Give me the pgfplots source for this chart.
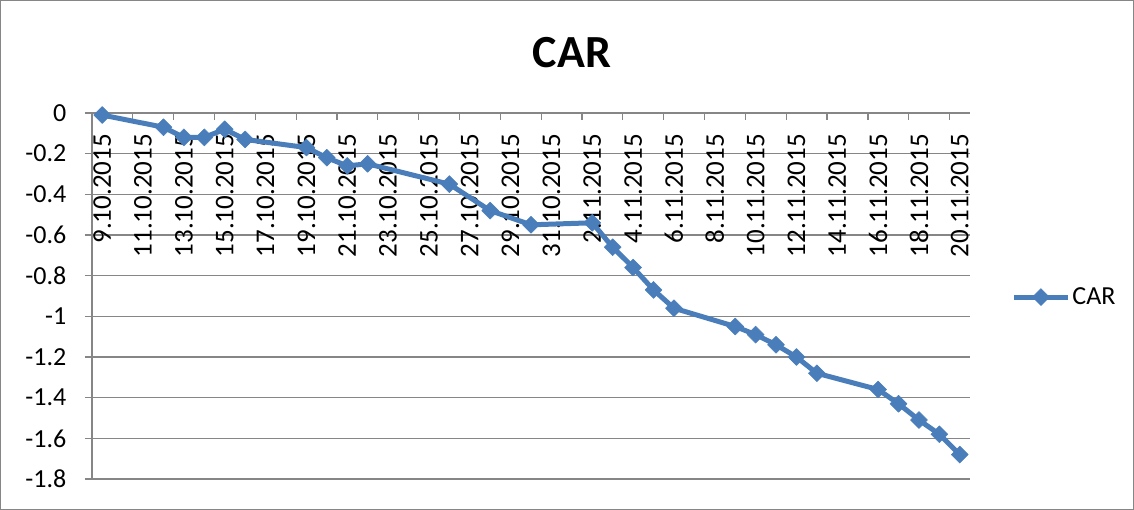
\documentclass[border=0pt]{standalone}
\usepackage{pgfplots}
\pgfplotsset{compat=1.18}
\usepackage{fontspec}
\setmainfont{Carlito}
\usetikzlibrary{calc}
\definecolor{carblue}{RGB}{74,126,187}
\definecolor{gridgray}{RGB}{134,134,134}

\begin{document}
\begin{tikzpicture}
\begin{axis}[
    name=ax,
    scale only axis,
    width=878pt, height=366pt,
    xmin=-0.5, xmax=42.5,
    ymin=-1.8, ymax=0,
    clip=false,
    axis x line=top,
    axis y line=left,
    axis line style={-, gridgray, line width=1.2pt},
    ymajorgrids,
    grid style={gridgray, line width=1.2pt},
    tick align=center,
    major tick length=7pt,
    /pgf/number format/assume math mode=true,
    % tick marks sit between the days, labels on the days
    xtick={-0.5,1.5,...,41.5},
    xticklabels={},
    xtick style={gridgray, line width=1.2pt, yshift=-3.5pt},
    extra x ticks={0,2,...,42},
    extra x tick labels={9.10.2015,11.10.2015,13.10.2015,15.10.2015,17.10.2015,19.10.2015,21.10.2015,23.10.2015,25.10.2015,27.10.2015,29.10.2015,31.10.2015,2.11.2015,4.11.2015,6.11.2015,8.11.2015,10.11.2015,12.11.2015,14.11.2015,16.11.2015,18.11.2015,20.11.2015},
    extra x tick style={major tick length=0pt},
    xticklabel style={font=\fontsize{27}{31}\selectfont, yshift=-21pt, rotate=90, anchor=east, inner sep=0pt},
    ytick={-1.8,-1.6,-1.4,-1.2,-1,-0.8,-0.6,-0.4,-0.2,0},
    yticklabels={-1.8,-1.6,-1.4,-1.2,-1,-0.8,-0.6,-0.4,-0.2,0},
    ytick style={gridgray, line width=1.2pt, xshift=-3.5pt},
    yticklabel style={font=\fontsize{26}{30}\selectfont, anchor=east, inner sep=0pt, xshift=-22pt},
    legend style={at={(1.047,0.497)}, anchor=west, draw=none, fill=none,
        inner sep=0pt, font=\fontsize{26}{30}\selectfont, nodes={inner sep=2pt}},
    legend image code/.code={
        \draw[mark repeat=2, mark phase=2, #1] plot coordinates {(0pt,0pt) (27pt,0pt) (54pt,0pt)};
    },
]

% CAR by trading day (0 = 9.10.2015)
\addplot[carblue, line width=5pt, line join=round,
    mark=square*, mark size=6pt,
    mark options={rotate=45, solid, line width=0.5pt, fill=carblue, draw=carblue}]
coordinates {
    (0,-0.01) (3,-0.07) (4,-0.12) (5,-0.12) (6,-0.08) (7,-0.13)
    (10,-0.17) (11,-0.22) (12,-0.26) (13,-0.25) (17,-0.35) (19,-0.48)
    (21,-0.55) (24,-0.54) (25,-0.66) (26,-0.76) (27,-0.87) (28,-0.96)
    (31,-1.05) (32,-1.09) (33,-1.14) (34,-1.20) (35,-1.28) (38,-1.36)
    (39,-1.43) (40,-1.51) (41,-1.58) (42,-1.68)
};
\addlegendentry{CAR}

\end{axis}
\pgfresetboundingbox
\node[font=\fontsize{46}{52}\selectfont\bfseries] at ($(ax.south west)+(480pt,426pt)$) {CAR};
\draw[gridgray, line width=1pt] ($(ax.south west)+(-91.5pt,-30.5pt)$) rectangle ($(ax.south west)+(1041.5pt,478.5pt)$);
\end{tikzpicture}
\end{document}
